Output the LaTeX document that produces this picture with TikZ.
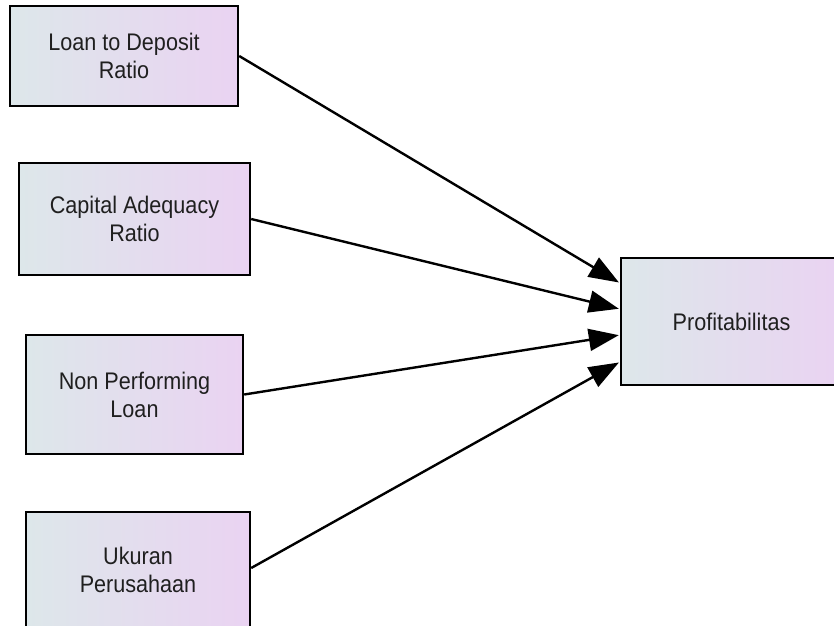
\documentclass[tikz,border=0pt]{standalone}
\usepackage{fontspec}
\setmainfont{Liberation Sans}[FakeStretch=0.9]
\usetikzlibrary{arrows.meta,calc}
\definecolor{leftc}{RGB}{221,231,234}
\definecolor{rightc}{RGB}{234,211,242}
\tikzset{
  varbox/.style={draw=black, line width=2.4pt, left color=leftc, right color=rightc,
    shading angle=90, inner sep=0pt, align=center, font=\fontsize{24}{28}\selectfont,
    text=black!88},
  link/.style={draw=black, line width=2.4pt, -{Triangle[length=30pt,width=22pt]}, shorten >=1pt}
}
\begin{document}
\begin{tikzpicture}[x=1pt,y=1pt]
\useasboundingbox (0,0) rectangle (834,-625);
\node[varbox, minimum width=228pt, minimum height=100pt] (ldr) at (124,-56) {Loan to Deposit\\Ratio};
\node[varbox, minimum width=231pt, minimum height=112pt] (car) at (134.5,-219) {Capital Adequacy\\Ratio};
\node[varbox, minimum width=217pt, minimum height=119pt] (npl) at (134.5,-394.5) {Non Performing\\Loan};
\node[varbox, minimum width=224pt, minimum height=116pt] (uk) at (138,-570) {Ukuran\\Perusahaan};
\node[varbox, minimum width=221pt, minimum height=127pt] (prof) at (731.5,-321.5) {Profitabilitas};
\coordinate (e1) at ($(prof.west)+(0,38.5)$);
\coordinate (e2) at ($(prof.west)+(0,12.5)$);
\coordinate (e3) at ($(prof.west)+(0,-13.5)$);
\coordinate (e4) at ($(prof.west)+(0,-40.5)$);
\draw[link] (ldr.east) -- (e1);
\draw[link] (car.east) -- (e2);
\draw[link] (npl.east) -- (e3);
\draw[link] ($(uk.east)+(0,2)$) -- (e4);
\end{tikzpicture}
\end{document}
